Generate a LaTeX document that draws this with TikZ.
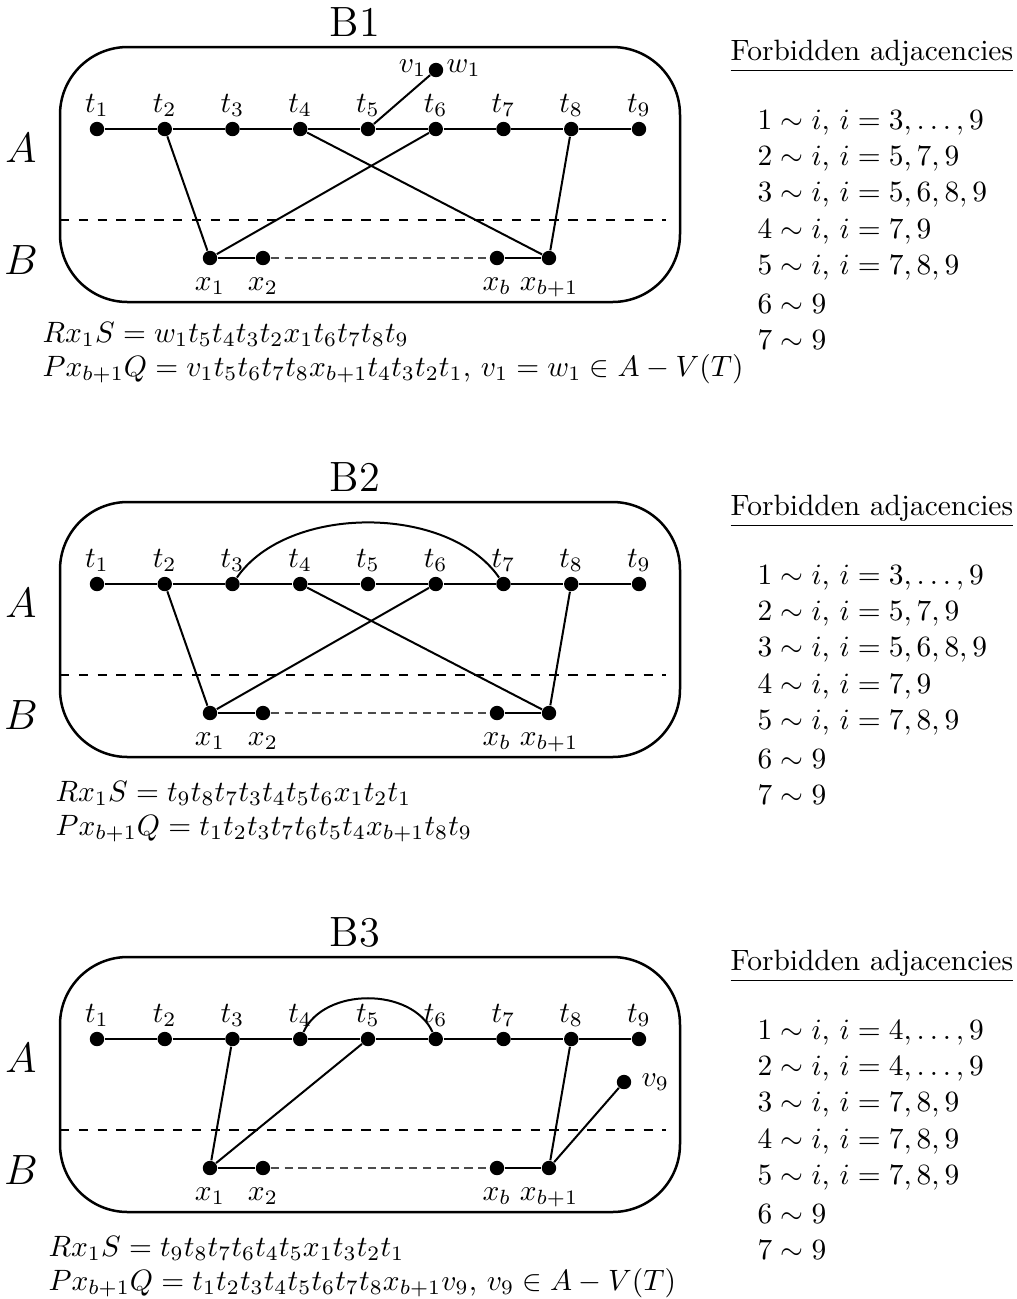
\documentclass[tikz,border=0pt]{standalone}
\usetikzlibrary{calc}
\begin{document}
\begin{tikzpicture}[x=0.34pt,y=-0.34pt,
  dot/.style={circle,fill,inner sep=0pt,minimum size=4.9pt},
  edge/.style={line width=0.68pt},
  frame/.style={line width=0.85pt,rounded corners=23pt},
  divider/.style={line width=0.7pt,dash pattern=on 3.2pt off 3.2pt},
  gapline/.style={line width=0.45pt,dash pattern=on 2.8pt off 1.9pt,black!70},
  lab/.style={inner sep=0pt,anchor=base},
  big/.style={font=\Large,inner sep=0pt},
  formula/.style={anchor=base west,inner sep=0pt},
  listitem/.style={anchor=west,inner sep=0pt}]
\useasboundingbox (0,0) rectangle (1016,1299);
\foreach \p/\o in {1/0,2/455,3/910}{
  \node[big] (title\p) at (355,22+\o) {B\p};
  \draw[frame] (60,47+\o) rectangle (680,302+\o);
  \draw[divider] (60,220+\o) -- (666,220+\o);
  \node[big] (A\p) at (21,148+\o) {$A$};
  \node[big] (B\p) at (21,260+\o) {$B$};
  \foreach \i in {1,...,9}{
    \node[dot] (t\p-\i) at ({97+67.75*(\i-1)},129+\o) {};
    \node[lab] (lt\p-\i) at ({97+67.75*(\i-1)},112+\o) {$t_{\i}$};
  }
  \draw[edge] (t\p-1) -- (t\p-2) -- (t\p-3) -- (t\p-4) -- (t\p-5) -- (t\p-6) -- (t\p-7) -- (t\p-8) -- (t\p-9);
  \node[dot] (xa\p) at (210,258+\o) {};
  \node[dot] (xb\p) at (263,258+\o) {};
  \node[dot] (xc\p) at (497,258+\o) {};
  \node[dot] (xd\p) at (549,258+\o) {};
  \node[lab] (lxa\p) at (210,290+\o) {$x_1$};
  \node[lab] (lxb\p) at (263,290+\o) {$x_2$};
  \node[lab] (lxc\p) at (497,290+\o) {$x_b$};
  \node[lab] (lxd\p) at (549,290+\o) {$x_{b+1}$};
  \draw[edge] (xa\p) -- (xb\p);
  \draw[gapline] (xb\p) -- (xc\p);
  \draw[edge] (xc\p) -- (xd\p);
  \node[anchor=west,inner sep=0pt] (fh\p) at (730,56+\o) {\underline{Forbidden adjacencies}};
}
% ---------- B1 ----------
\draw[edge] (t1-2) -- (xa1);
\draw[edge] (t1-6) -- (xa1);
\draw[edge] (t1-4) -- (xd1);
\draw[edge] (t1-8) -- (xd1);
\node[dot] (vw1) at (436,70) {};
\node[anchor=east,inner sep=0pt] (lv1) at (427,68) {$v_1$};
\node[anchor=west,inner sep=0pt] (lw1) at (446,68) {$w_1$};
\draw[edge] (t1-5) -- (vw1);
\node[formula] (r1) at (42,342) {$Rx_1S=w_1t_5t_4t_3t_2x_1t_6t_7t_8t_9$};
\node[formula] (q1) at (42,376) {$Px_{b+1}Q=v_1t_5t_6t_7t_8x_{b+1}t_4t_3t_2t_1$, $v_1=w_1\in A-V(T)$};
\node[listitem] (f1-1) at (757,123) {$1\sim i$, $i=3,\ldots,9$};
\node[listitem] (f1-2) at (757,159) {$2\sim i$, $i=5,7,9$};
\node[listitem] (f1-3) at (757,195) {$3\sim i$, $i=5,6,8,9$};
\node[listitem] (f1-4) at (757,232) {$4\sim i$, $i=7,9$};
\node[listitem] (f1-5) at (757,268) {$5\sim i$, $i=7,8,9$};
\node[listitem] (f1-6) at (757,304) {$6\sim 9$};
\node[listitem] (f1-7) at (757,340) {$7\sim 9$};
% ---------- B2 ----------
\draw[edge] (t2-3) .. controls +(55,-80) and +(-55,-80) .. (t2-7);
\draw[edge] (t2-2) -- (xa2);
\draw[edge] (t2-6) -- (xa2);
\draw[edge] (t2-4) -- (xd2);
\draw[edge] (t2-8) -- (xd2);
\node[formula] (r2) at (55,801) {$Rx_1S=t_9t_8t_7t_3t_4t_5t_6x_1t_2t_1$};
\node[formula] (q2) at (55,835) {$Px_{b+1}Q=t_1t_2t_3t_7t_6t_5t_4x_{b+1}t_8t_9$};
\node[listitem] (f2-1) at (757,578) {$1\sim i$, $i=3,\ldots,9$};
\node[listitem] (f2-2) at (757,614) {$2\sim i$, $i=5,7,9$};
\node[listitem] (f2-3) at (757,650) {$3\sim i$, $i=5,6,8,9$};
\node[listitem] (f2-4) at (757,687) {$4\sim i$, $i=7,9$};
\node[listitem] (f2-5) at (757,723) {$5\sim i$, $i=7,8,9$};
\node[listitem] (f2-6) at (757,759) {$6\sim 9$};
\node[listitem] (f2-7) at (757,795) {$7\sim 9$};
% ---------- B3 ----------
\draw[edge] (t3-4) .. controls +(24,-52) and +(-24,-52) .. (t3-6);
\draw[edge] (t3-3) -- (xa3);
\draw[edge] (t3-5) -- (xa3);
\draw[edge] (t3-8) -- (xd3);
\node[dot] (v9) at (624,1082) {};
\node[anchor=west,inner sep=0pt] (lv9) at (641,1082) {$v_9$};
\draw[edge] (xd3) -- (v9);
\node[formula] (r3) at (48,1256) {$Rx_1S=t_9t_8t_7t_6t_4t_5x_1t_3t_2t_1$};
\node[formula] (q3) at (48,1290) {$Px_{b+1}Q=t_1t_2t_3t_4t_5t_6t_7t_8x_{b+1}v_9$, $v_9\in A-V(T)$};
\node[listitem] (f3-1) at (757,1033) {$1\sim i$, $i=4,\ldots,9$};
\node[listitem] (f3-2) at (757,1069) {$2\sim i$, $i=4,\ldots,9$};
\node[listitem] (f3-3) at (757,1105) {$3\sim i$, $i=7,8,9$};
\node[listitem] (f3-4) at (757,1142) {$4\sim i$, $i=7,8,9$};
\node[listitem] (f3-5) at (757,1178) {$5\sim i$, $i=7,8,9$};
\node[listitem] (f3-6) at (757,1214) {$6\sim 9$};
\node[listitem] (f3-7) at (757,1250) {$7\sim 9$};
\end{tikzpicture}
\end{document}
